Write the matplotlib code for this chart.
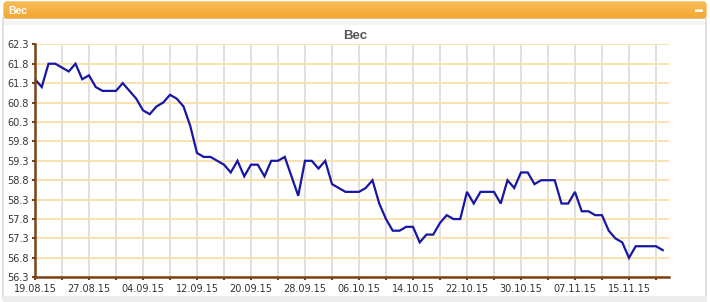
import matplotlib
matplotlib.use("Agg")
import matplotlib.pyplot as plt
from matplotlib.patches import FancyBboxPatch, Rectangle
import numpy as np
import pandas as pd

# ---- data ----
start_date = "2015-08-19"
weights = [61.4, 61.2, 61.8, 61.8, 61.7, 61.6, 61.8, 61.4, 61.5, 61.2,
           61.1, 61.1, 61.1, 61.3, 61.1, 60.9, 60.6, 60.5, 60.7, 60.8,
           61.0, 60.9, 60.7, 60.2, 59.5, 59.4, 59.4, 59.3, 59.2, 59.0,
           59.3, 58.9, 59.2, 59.2, 58.9, 59.3, 59.3, 59.4, 58.9, 58.4,
           59.3, 59.3, 59.1, 59.3, 58.7, 58.6, 58.5, 58.5, 58.5, 58.6,
           58.8, 58.2, 57.8, 57.5, 57.5, 57.6, 57.6, 57.2, 57.4, 57.4,
           57.7, 57.9, 57.8, 57.8, 58.5, 58.2, 58.5, 58.5, 58.5, 58.2,
           58.8, 58.6, 59.0, 59.0, 58.7, 58.8, 58.8, 58.8, 58.2, 58.2,
           58.5, 58.0, 58.0, 57.9, 57.9, 57.5, 57.3, 57.2, 56.8, 57.1,
           57.1, 57.1, 57.1, 57.0]
dates = pd.date_range(start_date, periods=len(weights), freq="D")
y_ticks = [56.3, 56.8, 57.3, 57.8, 58.3, 58.8, 59.3, 59.8, 60.3, 60.8, 61.3, 61.8, 62.3]
title = "Вес"
panel_title = "Вес"

W, H = 710, 302
fig = plt.figure(figsize=(W / 100, H / 100), dpi=100)
fig.patch.set_facecolor("white")

# ---- background / panel decoration in pixel coords ----
bg = fig.add_axes([0, 0, 1, 1], zorder=-5)
bg.set_xlim(0, W)
bg.set_ylim(H, 0)
bg.axis("off")
bg.add_patch(Rectangle((3, 18), 703, 280, facecolor="white", edgecolor="#DADADA", lw=1.2))
bg.add_patch(Rectangle((4, 21), 701, 4, facecolor="#F4F4F4", edgecolor="none"))
bg.add_patch(Rectangle((3, 296), 704, 6, facecolor="#EDEDED", edgecolor="none"))
hdr = FancyBboxPatch((4, 2), 702, 16, boxstyle="round,pad=0,rounding_size=3",
                     facecolor="none", edgecolor="#F0A22C", lw=0.8)
bg.add_patch(hdr)
grad = np.linspace(0, 1, 64).reshape(-1, 1)
c1 = np.array(matplotlib.colors.to_rgb("#F8BC56"))
c2 = np.array(matplotlib.colors.to_rgb("#F4A733"))
img = c1[None, None, :] * (1 - grad[:, :, None]) + c2[None, None, :] * grad[:, :, None]
im = bg.imshow(img, extent=(4, 706, 18, 2), aspect="auto", zorder=1)
im.set_clip_path(hdr)
bg.text(8, 10.5, panel_title, color="white", fontsize=7.5, fontweight="bold",
        family=["Liberation Sans", "DejaVu Sans"], va="center", ha="left", zorder=3)
bg.add_patch(FancyBboxPatch((695, 9.5), 8, 2.5, boxstyle="round,pad=0,rounding_size=1",
                            facecolor="white", edgecolor="none", zorder=3))
bg.text(W / 2, 36, title, color="#555555", fontsize=9.5, fontweight="bold",
        family=["Liberation Sans", "DejaVu Sans"], ha="center", va="center")

# ---- main axes ----
left, right = 35, 669
top, bottom = 44.3, 277.3
ax = fig.add_axes([left / W, 1 - bottom / H, (right - left) / W, (bottom - top) / H])
ax.set_facecolor("none")

ax.plot(dates, weights, color="#1717A3", lw=1.6, zorder=5, solid_joinstyle="miter")

x0 = dates[0]
x_end = x0 + pd.Timedelta(days=93.93)
ax.set_xlim(x0, x_end)
ax.set_ylim(56.3, 62.3)
ax.set_yticks(y_ticks)
ax.set_yticklabels([f"{v:.1f}" for v in y_ticks])

tick_dates = [d for d in pd.date_range(start_date, periods=24, freq="4D") if d <= x_end]
ax.set_xticks(tick_dates)
ax.set_xticklabels([d.strftime("%d.%m.%y") if i % 2 == 0 else "" for i, d in enumerate(tick_dates)])

brown = "#7A4218"
for s in ["top", "right"]:
    ax.spines[s].set_visible(False)
for s in ["left", "bottom"]:
    ax.spines[s].set_color(brown)
    ax.spines[s].set_linewidth(1.8)
    ax.spines[s].set_zorder(6)

ax.tick_params(axis="both", colors=brown, width=1.5, length=2.5, labelsize=7,
               labelcolor="#333333", pad=2)
for lab in ax.get_xticklabels() + ax.get_yticklabels():
    lab.set_family(["DejaVu Sans"])

for v in y_ticks:
    ax.axhline(v, color="#F7E2AE", lw=1.4, zorder=1)
for d in tick_dates[1:]:
    ax.axvline(d, color="#E0E0E0", lw=1.4, zorder=0.5)

fig.savefig("out.png", dpi=100, facecolor=fig.get_facecolor())
